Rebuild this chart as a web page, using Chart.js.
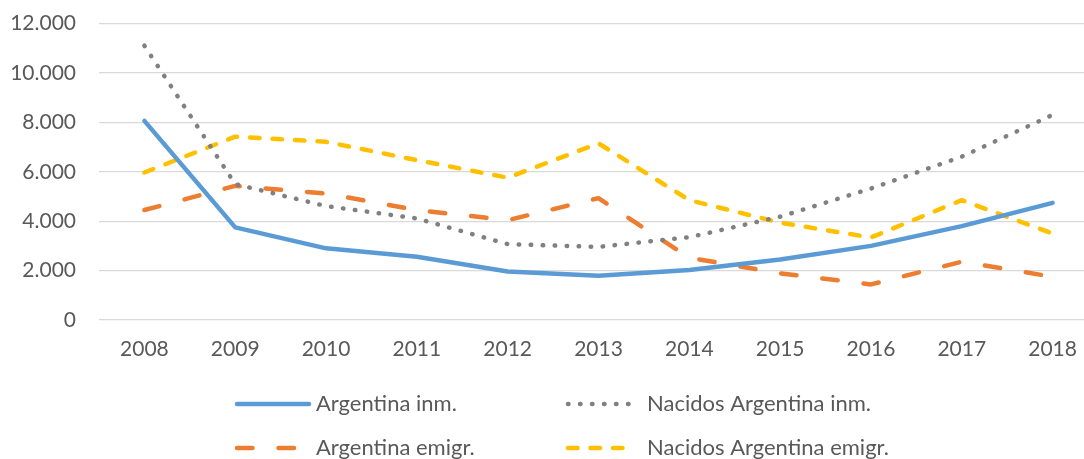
<!DOCTYPE html>
<html>
<head>
<meta charset="utf-8">
<script src="https://cdn.jsdelivr.net/npm/chart.js@4/dist/chart.umd.min.js"></script>
<style>
  html, body { margin: 0; padding: 0; background: #fff; overflow: hidden; }
  #wrap { width: 1084px; height: 459px; overflow: hidden; }
</style>
</head>
<body>
<div id="wrap"><canvas id="flows" width="1100" height="459"></canvas></div>
<script>
// years on the x axis
const years = ['2008', '2009', '2010', '2011', '2012', '2013', '2014', '2015', '2016', '2017', '2018'];

// series
const argentinaInm = [8060, 3750, 2900, 2560, 1960, 1790, 2020, 2450, 3000, 3800, 4740];
const nacidosInm = [11100, 5500, 4610, 4110, 3070, 2960, 3350, 4180, 5320, 6610, 8300];
const argentinaEmigr = [4450, 5430, 5120, 4450, 4040, 4930, 2520, 1890, 1440, 2360, 1750];
const nacidosEmigr = [5970, 7420, 7210, 6470, 5760, 7150, 4850, 3940, 3340, 4850, 3500];

const seriesNames = ['Argentina inm.', 'Nacidos Argentina inm.', 'Argentina emigr.', 'Nacidos Argentina emigr.'];

const FONT = 'Lato';
const TEXT = '#595959';

// thousands with a dot: 12.000
function miles(v) {
  return String(v).replace(/\B(?=(\d{3})+(?!\d))/g, '.');
}

// legend in two columns under the chart
const twoColLegend = {
  id: 'twoColLegend',
  afterDraw(chart) {
    const ctx = chart.ctx;
    const cols = [237, 568];
    const rows = [404, 448];
    ctx.save();
    chart.data.datasets.forEach((ds, i) => {
      const x = cols[i % 2];
      const y = rows[Math.floor(i / 2)];
      ctx.beginPath();
      ctx.strokeStyle = ds.borderColor;
      ctx.lineWidth = ds.borderWidth;
      ctx.lineCap = 'round';
      ctx.setLineDash(ds.borderDash || []);
      ctx.moveTo(x, y);
      ctx.lineTo(x + (ds.legendLen || 72), y);
      ctx.stroke();
      ctx.setLineDash([]);
      ctx.fillStyle = TEXT;
      ctx.font = '22px ' + FONT;
      ctx.textBaseline = 'middle';
      ctx.textAlign = 'left';
      ctx.fillText(ds.label, x + 79, y);
    });
    ctx.restore();
  }
};

const ctx = document.getElementById('flows').getContext('2d');
const chart = new Chart(ctx, {
  type: 'line',
  data: {
    labels: years,
    datasets: [{
      label: seriesNames[0],
      data: argentinaInm,
      borderColor: '#5B9BD5',
      borderWidth: 4.5,
      borderDash: [],
      legendLen: 72
    }, {
      label: seriesNames[1],
      data: nacidosInm,
      borderColor: '#808080',
      borderWidth: 4.5,
      borderDash: [0.5, 11.5],
      legendLen: 64
    }, {
      label: seriesNames[2],
      data: argentinaEmigr,
      borderColor: '#ED7D31',
      borderWidth: 4.5,
      borderDash: [15.5, 26],
      legendLen: 64
    }, {
      label: seriesNames[3],
      data: nacidosEmigr,
      borderColor: '#FFC000',
      borderWidth: 4.5,
      borderDash: [9.5, 13],
      legendLen: 64
    }]
  },
  options: {
    responsive: false,
    animation: false,
    layout: { padding: { top: 23.5, right: 2, left: 0, bottom: 97 } },
    elements: {
      line: { tension: 0, borderCapStyle: 'round', borderJoinStyle: 'round', fill: false },
      point: { radius: 0, hoverRadius: 0 }
    },
    scales: {
      x: {
        offset: true,
        grid: { display: false, drawTicks: false },
        border: { display: false },
        ticks: { color: TEXT, font: { family: FONT, size: 21 }, padding: 17, maxRotation: 0 },
        afterFit(scale) { scale.height = 42; }
      },
      y: {
        min: 0,
        max: 12000,
        grid: { color: '#D9D9D9', lineWidth: 1.3, drawTicks: false },
        border: { display: false },
        ticks: {
          stepSize: 2000,
          color: TEXT,
          font: { family: FONT, size: 21 },
          padding: 23,
          callback: (v) => miles(v)
        },
        afterFit(scale) {
          // fixed width, and no extra room above/below for the tick labels
          scale.width = 99;
          scale.paddingTop = 0;
          scale.paddingBottom = 0;
        }
      }
    },
    plugins: {
      legend: { display: false },
      tooltip: { enabled: false }
    }
  },
  plugins: [twoColLegend]
});
</script>
</body>
</html>
